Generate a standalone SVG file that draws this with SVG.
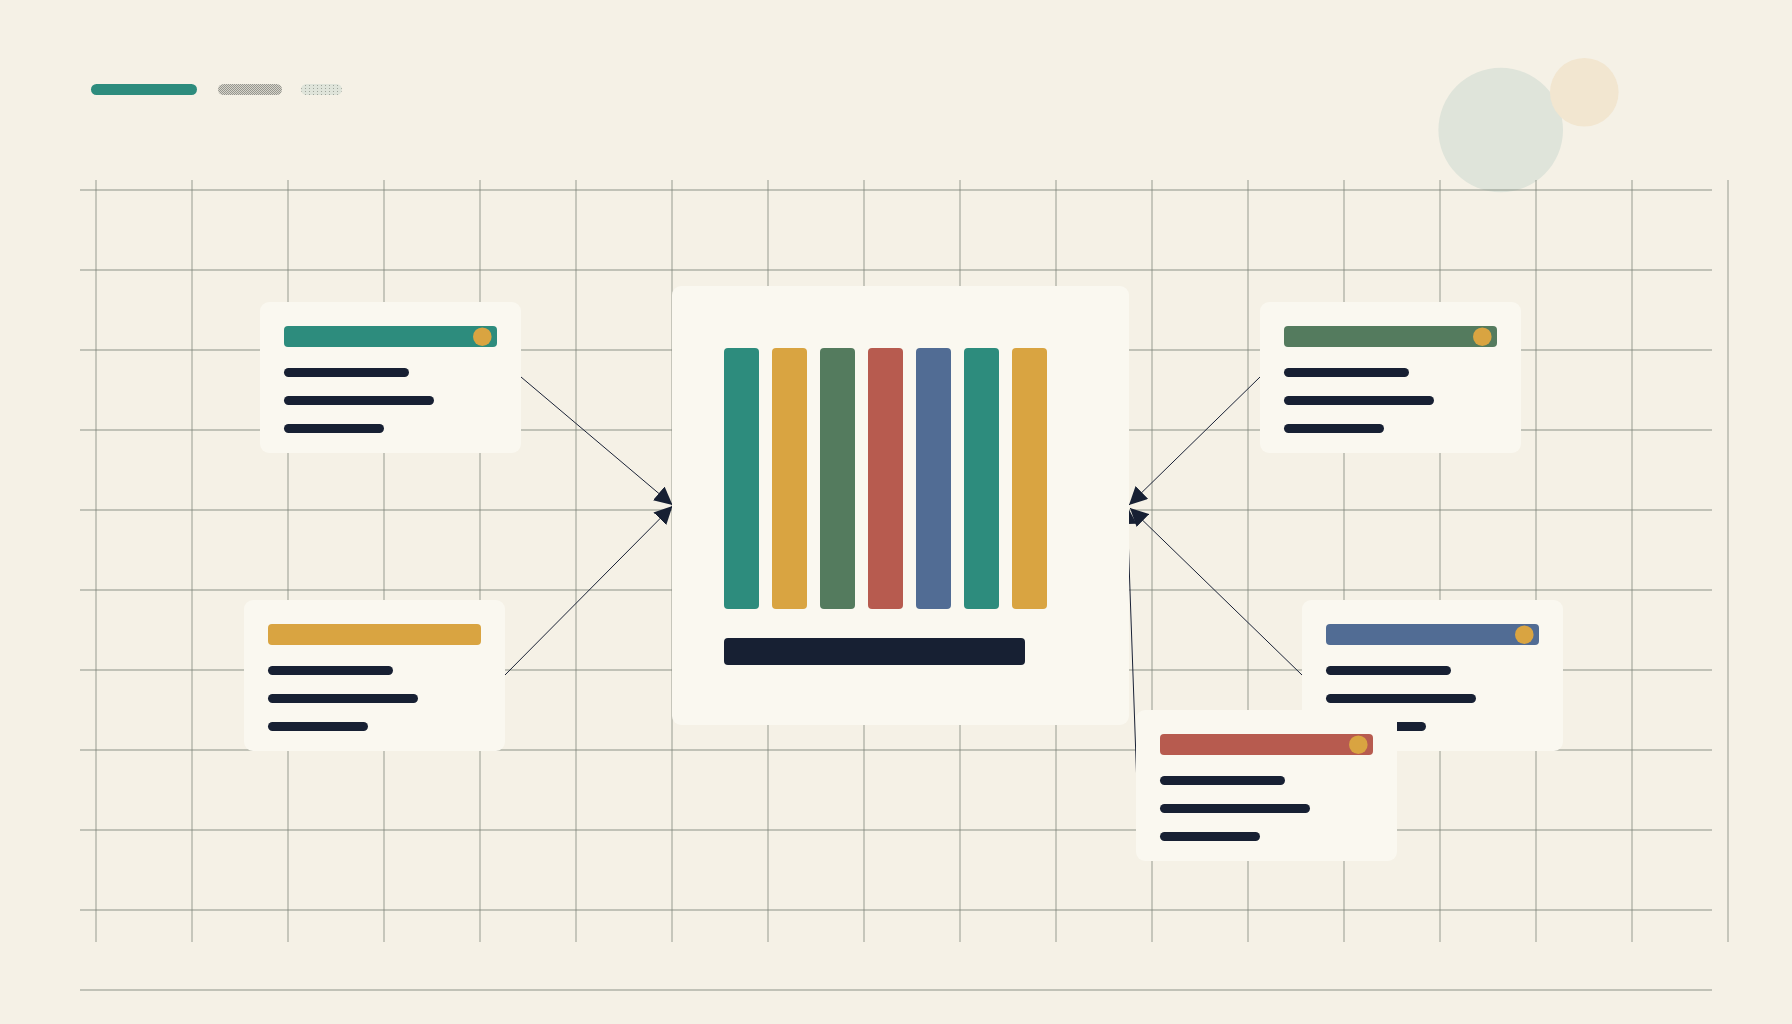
<svg xmlns="http://www.w3.org/2000/svg" width="1792" height="1024" viewBox="0 0 1792 1024">
<defs>
<style>
.vg{stroke:#80867b;stroke-width:1;opacity:0.8}
.hg{stroke:#7d8478;stroke-width:1.2;opacity:0.85}
.card{fill:#faf8f0}
.ln{fill:#172033}
.dot{fill:#d9a441}
.con{stroke:#1a2236;stroke-width:1;fill:none;marker-end:url(#ah)}
</style>
<marker id="ah" markerUnits="userSpaceOnUse" markerWidth="18" markerHeight="18" refX="18" refY="9" orient="auto">
<path d="M0,0 L18,9 L0,18 Z" fill="#172033"/>
</marker>
<pattern id="checker" width="2" height="2" patternUnits="userSpaceOnUse">
<rect width="2" height="2" fill="#d6d4cb"/>
<rect width="1" height="1" fill="#96968e"/>
<rect x="1" y="1" width="1" height="1" fill="#96968e"/>
</pattern>
<pattern id="dots" width="4" height="3" patternUnits="userSpaceOnUse">
<rect width="4" height="3" fill="#dfe4da"/>
<rect x="1" y="1" width="1" height="1" fill="#9ea49a"/>
</pattern>
</defs>
<rect width="1792" height="1024" fill="#f5f1e6"/>
<g id="header">
<rect x="91" y="84" width="106" height="11" rx="5.5" fill="#2d8c7d"/>
<rect x="218" y="84" width="64" height="11" rx="5.5" fill="url(#checker)"/>
<rect x="301" y="84" width="41" height="11" rx="5.5" fill="url(#dots)"/>
</g>
<g id="deco">
<circle cx="1500.7" cy="130" r="62.3" fill="#dfe4da"/>
<circle cx="1584.3" cy="92.3" r="34.3" fill="#f2e6d0"/>
</g>
<g id="grid">
<line class="vg" x1="96" y1="180" x2="96" y2="942"/>
<line class="vg" x1="192" y1="180" x2="192" y2="942"/>
<line class="vg" x1="288" y1="180" x2="288" y2="942"/>
<line class="vg" x1="384" y1="180" x2="384" y2="942"/>
<line class="vg" x1="480" y1="180" x2="480" y2="942"/>
<line class="vg" x1="576" y1="180" x2="576" y2="942"/>
<line class="vg" x1="672" y1="180" x2="672" y2="942"/>
<line class="vg" x1="768" y1="180" x2="768" y2="942"/>
<line class="vg" x1="864" y1="180" x2="864" y2="942"/>
<line class="vg" x1="960" y1="180" x2="960" y2="942"/>
<line class="vg" x1="1056" y1="180" x2="1056" y2="942"/>
<line class="vg" x1="1152" y1="180" x2="1152" y2="942"/>
<line class="vg" x1="1248" y1="180" x2="1248" y2="942"/>
<line class="vg" x1="1344" y1="180" x2="1344" y2="942"/>
<line class="vg" x1="1440" y1="180" x2="1440" y2="942"/>
<line class="vg" x1="1536" y1="180" x2="1536" y2="942"/>
<line class="vg" x1="1632" y1="180" x2="1632" y2="942"/>
<line class="vg" x1="1728" y1="180" x2="1728" y2="942"/>
<line class="hg" x1="80" y1="190" x2="1712" y2="190"/>
<line class="hg" x1="80" y1="270" x2="1712" y2="270"/>
<line class="hg" x1="80" y1="350" x2="1712" y2="350"/>
<line class="hg" x1="80" y1="430" x2="1712" y2="430"/>
<line class="hg" x1="80" y1="510" x2="1712" y2="510"/>
<line class="hg" x1="80" y1="590" x2="1712" y2="590"/>
<line class="hg" x1="80" y1="670" x2="1712" y2="670"/>
<line class="hg" x1="80" y1="750" x2="1712" y2="750"/>
<line class="hg" x1="80" y1="830" x2="1712" y2="830"/>
<line class="hg" x1="80" y1="910" x2="1712" y2="910"/>
<line class="hg" x1="80" y1="990" x2="1712" y2="990"/>
</g>
<g id="connectors">
<line class="con" x1="521" y1="377" x2="672.5" y2="505"/>
<line class="con" x1="504" y1="676" x2="672.5" y2="506"/>
<line class="con" x1="1260" y1="377" x2="1129" y2="505"/>
<line class="con" x1="1302" y1="675" x2="1130" y2="508"/>
<line class="con" x1="1137" y1="787" x2="1127" y2="506"/>
</g>
<g id="center">
<rect class="card" x="672" y="286" width="457" height="439" rx="9"/>
<rect x="724" y="348" width="35" height="261" rx="4" fill="#2d8c7d"/>
<rect x="772" y="348" width="35" height="261" rx="4" fill="#d9a441"/>
<rect x="820" y="348" width="35" height="261" rx="4" fill="#547b5e"/>
<rect x="868" y="348" width="35" height="261" rx="4" fill="#b75b4f"/>
<rect x="916" y="348" width="35" height="261" rx="4" fill="#516c94"/>
<rect x="964" y="348" width="35" height="261" rx="4" fill="#2d8c7d"/>
<rect x="1012" y="348" width="35" height="261" rx="4" fill="#d9a441"/>
<rect class="ln" x="724" y="638" width="301" height="27" rx="4"/>
</g>
<g id="card-teal" transform="translate(260,302)">
<rect class="card" width="261" height="151" rx="9"/>
<rect x="24" y="24" width="213" height="21" rx="4" fill="#2d8c7d"/>
<circle class="dot" cx="222.3" cy="34.7" r="9.3"/>
<rect class="ln" x="24" y="66" width="125" height="9" rx="4.5"/>
<rect class="ln" x="24" y="94" width="150" height="9" rx="4.5"/>
<rect class="ln" x="24" y="122" width="100" height="9" rx="4.5"/>
</g>
<g id="card-gold" transform="translate(244,600)">
<rect class="card" width="261" height="151" rx="9"/>
<rect x="24" y="24" width="213" height="21" rx="4" fill="#d9a441"/>
<rect class="ln" x="24" y="66" width="125" height="9" rx="4.5"/>
<rect class="ln" x="24" y="94" width="150" height="9" rx="4.5"/>
<rect class="ln" x="24" y="122" width="100" height="9" rx="4.5"/>
</g>
<g id="card-green" transform="translate(1260,302)">
<rect class="card" width="261" height="151" rx="9"/>
<rect x="24" y="24" width="213" height="21" rx="4" fill="#547b5e"/>
<circle class="dot" cx="222.3" cy="34.7" r="9.3"/>
<rect class="ln" x="24" y="66" width="125" height="9" rx="4.5"/>
<rect class="ln" x="24" y="94" width="150" height="9" rx="4.5"/>
<rect class="ln" x="24" y="122" width="100" height="9" rx="4.5"/>
</g>
<g id="card-blue" transform="translate(1302,600)">
<rect class="card" width="261" height="151" rx="9"/>
<rect x="24" y="24" width="213" height="21" rx="4" fill="#516c94"/>
<circle class="dot" cx="222.3" cy="34.7" r="9.3"/>
<rect class="ln" x="24" y="66" width="125" height="9" rx="4.5"/>
<rect class="ln" x="24" y="94" width="150" height="9" rx="4.5"/>
<rect class="ln" x="24" y="122" width="100" height="9" rx="4.5"/>
</g>
<g id="card-red" transform="translate(1136,710)">
<rect class="card" width="261" height="151" rx="9"/>
<rect x="24" y="24" width="213" height="21" rx="4" fill="#b75b4f"/>
<circle class="dot" cx="222.3" cy="34.7" r="9.3"/>
<rect class="ln" x="24" y="66" width="125" height="9" rx="4.5"/>
<rect class="ln" x="24" y="94" width="150" height="9" rx="4.5"/>
<rect class="ln" x="24" y="122" width="100" height="9" rx="4.5"/>
</g>
</svg>
